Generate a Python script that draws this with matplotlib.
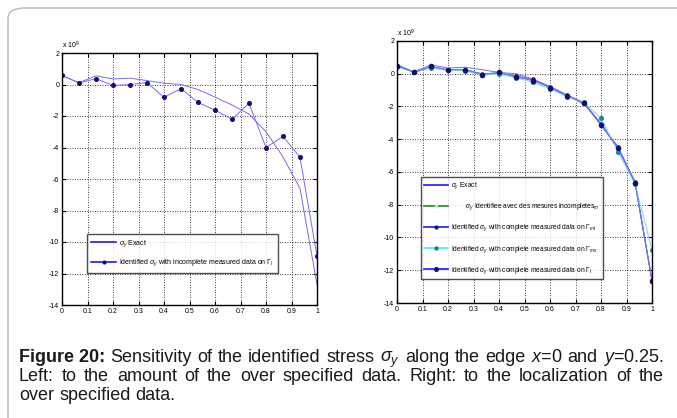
import numpy as np
import matplotlib.pyplot as plt
from matplotlib.lines import Line2D
from matplotlib.patches import FancyBboxPatch

plt.rcParams['font.family'] = ['Liberation Sans', 'DejaVu Sans']
plt.rcParams['mathtext.fontset'] = 'custom'
plt.rcParams['mathtext.rm'] = 'Liberation Sans'
plt.rcParams['mathtext.it'] = 'Liberation Sans:italic'
plt.rcParams['mathtext.bf'] = 'Liberation Sans:bold'
plt.rcParams['axes.unicode_minus'] = False

# data (values in units of 1e9)
x = [0, 0.0667, 0.1333, 0.2, 0.2667, 0.3333, 0.4, 0.4667,
     0.5333, 0.6, 0.6667, 0.7333, 0.8, 0.8667, 0.9333, 1.0]
exact = [0.55, 0.12, 0.55, 0.35, 0.4, 0.25, 0.08, 0.0,
         -0.32, -0.8, -1.3, -1.88, -3.0, -4.6, -6.6, -12.7]
left_incomplete = [0.58, 0.1, 0.37, -0.06, 0.0, 0.12, -0.82, -0.26,
                   -1.14, -1.63, -2.2, -1.2, -4.0, -3.3, -4.62, -10.9]
right_incomplete = [0.48, 0.1, 0.42, 0.24, 0.25, 0.0, 0.05, -0.15,
                    -0.38, -0.8, -1.32, -1.78, -3.1, -4.5, -6.62, -12.6]
right_ml = [0.45, 0.1, 0.4, 0.22, 0.22, -0.02, 0.05, -0.12,
            -0.35, -0.78, -1.3, -1.75, -3.05, -4.45, -6.6, -12.6]
right_mx = [0.42, 0.1, 0.35, 0.2, 0.18, -0.08, -0.02, -0.25,
            -0.52, -0.92, -1.4, -1.75, -2.72, -4.75, -6.75, -10.75]
right_l = [0.5, 0.08, 0.45, 0.25, 0.25, -0.05, 0.08, -0.2,
           -0.42, -0.85, -1.35, -1.8, -3.15, -4.55, -6.65, -12.65]

xticks = [0, 0.1, 0.2, 0.3, 0.4, 0.5, 0.6, 0.7, 0.8, 0.9, 1]
yticks = [2, 0, -2, -4, -6, -8, -10, -12, -14]

fig = plt.figure(figsize=(6.77, 4.18), dpi=100)

# outer rounded frame
frame = FancyBboxPatch((8 / 677, 1 - 440 / 418), 700 / 677, 432 / 418,
                       boxstyle='round,pad=0,rounding_size=0.025',
                       transform=fig.transFigure, fc='none', ec='#b8b8b8', lw=1.0)
fig.patches.append(frame)

ax1 = fig.add_axes([62 / 677, 1 - 305 / 418, 255 / 677, 252 / 418])
ax2 = fig.add_axes([397 / 677, 1 - 303 / 418, 255 / 677, 262 / 418])

line_c = '#6f6ff5'
mark_c = '#10106e'


def style(ax):
    ax.set_xlim(0, 1)
    ax.set_ylim(-14, 2)
    ax.set_xticks(xticks)
    ax.set_yticks(yticks)
    ax.set_xticklabels([('%g' % t) for t in xticks])
    ax.set_yticklabels([('%g' % t) for t in yticks])
    ax.tick_params(direction='in', top=True, right=True, length=3, width=0.8,
                   labelsize=5, pad=2)
    ax.grid(True, color='black', linestyle=(0, (1, 2)), linewidth=0.6)
    for s in ax.spines.values():
        s.set_linewidth(1.0)
    ax.text(0.0, 1.008, r'x 10$^9$', transform=ax.transAxes, fontsize=5,
            ha='left', va='bottom')


# left panel
ax1.plot(x, exact, color=line_c, lw=0.7)
ax1.plot(x, left_incomplete, color=line_c, lw=0.7, marker='o', ms=2.6,
         mfc=mark_c, mec=mark_c)
style(ax1)
h1 = [Line2D([], [], color='#1a1aff', lw=1.2),
      Line2D([], [], color='#1a1aff', lw=1.2, marker='o', ms=2, mfc=mark_c, mec=mark_c)]
l1 = [r'$\sigma_y$ Exact',
      r'Identified $\sigma_y$ with incomplete measured data on $\Gamma_l$']
leg1 = ax1.legend(h1, l1, loc='upper left', bbox_to_anchor=(0.098, 0.283),
                  fontsize=5, frameon=True, fancybox=False, borderpad=0.6,
                  handlelength=3.6, labelspacing=1.3, handletextpad=0.4,
                  borderaxespad=0)
leg1.get_frame().set_edgecolor('#222222')
leg1.get_frame().set_linewidth(1.0)

# right panel
ax2.plot(x, right_incomplete, color='#3aa03a', lw=0.7)
ax2.plot(x, exact, color=line_c, lw=0.7)
ax2.plot(x, right_ml, color=line_c, lw=0.7, marker='o', ms=2.2,
         mfc=mark_c, mec=mark_c)
ax2.plot(x, right_mx, color='#7fe0d8', lw=0.8, marker='o', ms=2.6,
         mfc='#1a8a80', mec='#1a8a80')
ax2.plot(x, right_l, color=line_c, lw=0.7, marker='o', ms=3.0,
         mfc=mark_c, mec=mark_c)
style(ax2)
h2 = [Line2D([], [], color='#1a1aff', lw=1.2),
      Line2D([], [], color='#1f8a1f', lw=1.2, marker='o', ms=1.5, mfc='#c8e8c8', mec='#c8e8c8'),
      Line2D([], [], color='#1a1aff', lw=1.2, marker='o', ms=2, mfc=mark_c, mec=mark_c),
      Line2D([], [], color='#40f0f0', lw=1.2, marker='o', ms=2.2, mfc='#1a8a80', mec='#1a8a80'),
      Line2D([], [], color='#1a1aff', lw=1.2, marker='o', ms=2.6, mfc=mark_c, mec=mark_c)]
l2 = [r'$\sigma_y$ Exact',
      r'        $\sigma_y$ Identifiee avec des mesures incompletes$_m$',
      r'Identified $\sigma_y$ with complete measured data on $\Gamma_{ml}$',
      r'Identified $\sigma_y$ with complete measured data on $\Gamma_{mx}$',
      r'Identified $\sigma_y$ with complete measured data on $\Gamma_l$']
leg2 = ax2.legend(h2, l2, loc='upper left', bbox_to_anchor=(0.094, 0.481),
                  fontsize=4.8, frameon=True, fancybox=False, borderpad=0.5,
                  handlelength=3.6, labelspacing=1.55, handletextpad=0.4,
                  borderaxespad=0)
leg2.get_frame().set_edgecolor('#222222')
leg2.get_frame().set_linewidth(1.0)

# caption, justified lines
cap_size = 13
renderer = fig.canvas.get_renderer()


def place_line(pieces, y_px, x0_px, x1_px=None):
    objs = []
    for txt, bold in pieces:
        t = fig.text(0, 1 - y_px / 418, txt, fontsize=cap_size,
                     fontweight='bold' if bold else 'normal',
                     ha='left', va='baseline', color='#1a1a1a')
        objs.append(t)
    widths = [o.get_window_extent(renderer).width for o in objs]
    if x1_px is None:
        gap = cap_size * 0.28 * 100 / 72
    else:
        gap = (x1_px - x0_px - sum(widths)) / (len(objs) - 1)
    pos = x0_px
    for o, w in zip(objs, widths):
        o.set_x(pos / 677)
        pos += w + gap


line1 = [('Figure 20:', True), ('Sensitivity', False), ('of', False), ('the', False),
         ('identified', False), ('stress', False), (r'$\sigma_y$', False),
         ('along', False), ('the', False), ('edge', False), (r'$x$=0', False),
         ('and', False), (r'$y$=0.25.', False)]
line2 = [(w, False) for w in
         'Left: to the amount of the over specified data. Right: to the localization of the'.split()]
line3 = [(w, False) for w in 'over specified data.'.split()]
place_line(line1, 362, 19, 664)
place_line(line2, 381, 19, 664)
place_line(line3, 400, 19)

fig.savefig('out.png', dpi=100)
